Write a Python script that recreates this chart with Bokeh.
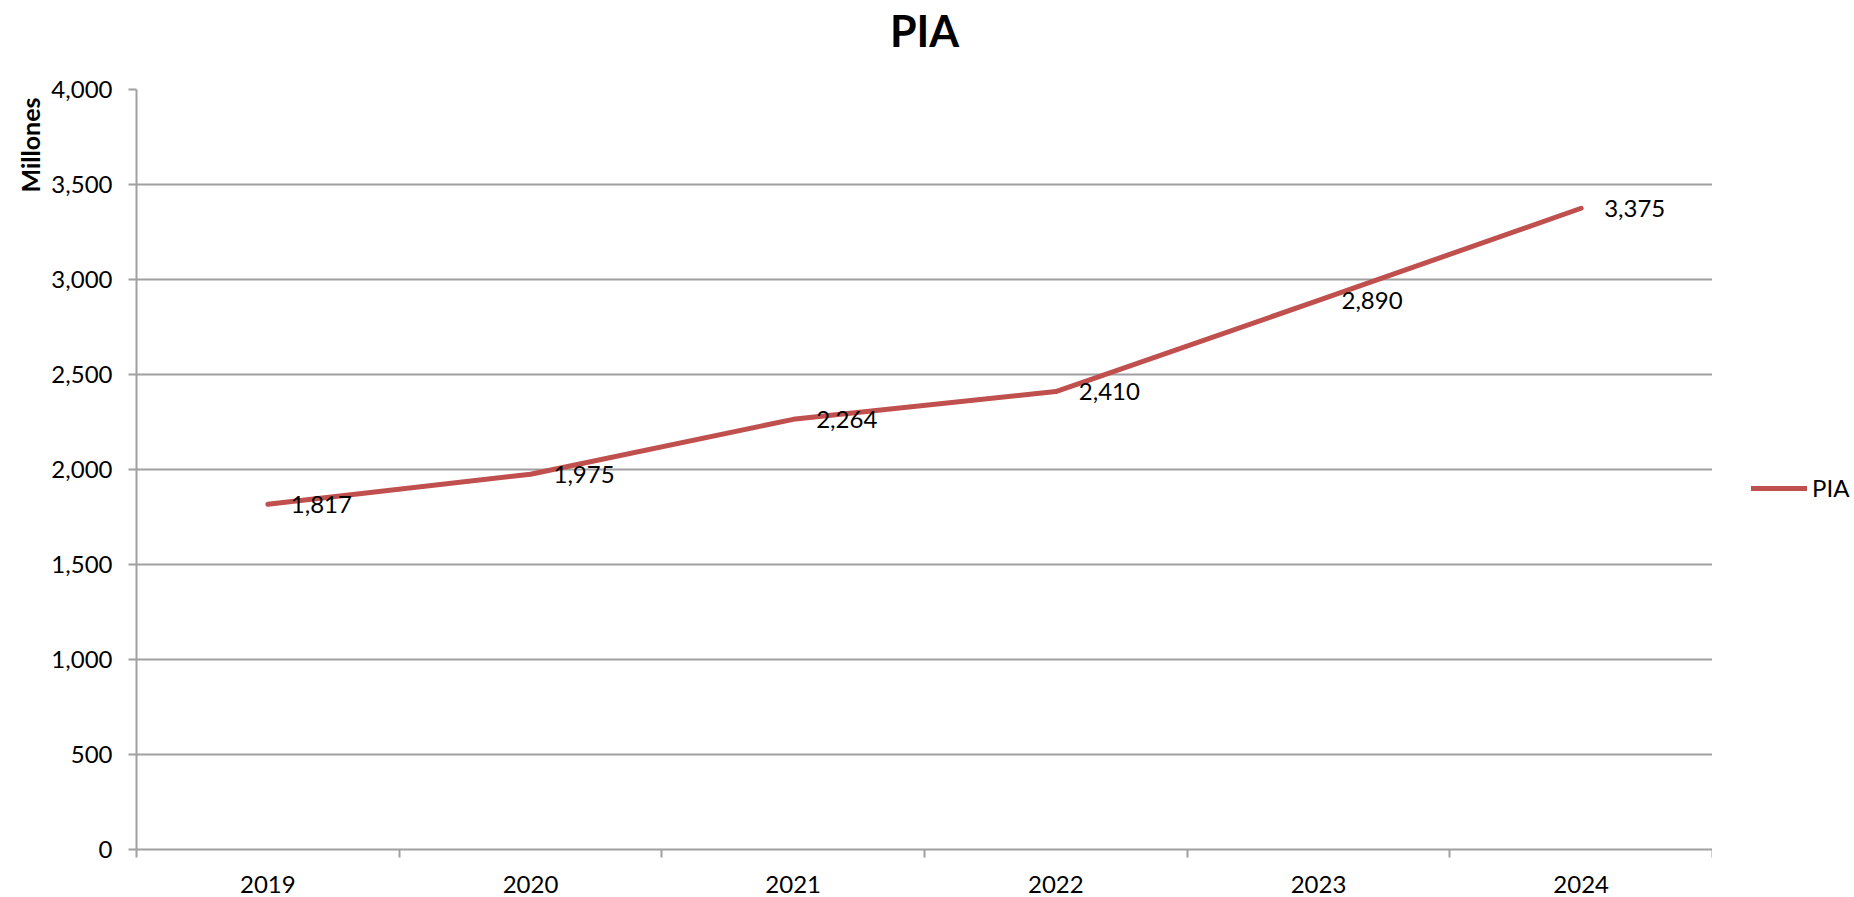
from bokeh.plotting import figure
from bokeh.layouts import row
from bokeh.models import (ColumnDataSource, FixedTicker, NumeralTickFormatter, Legend,
                          LegendItem, Title, Range1d)
from bokeh.core.properties import value
from bokeh.embed import file_html
from bokeh.resources import INLINE

years = ["2019", "2020", "2021", "2022", "2023", "2024"]
pia = [1817, 1975, 2264, 2410, 2890, 3375]
labels = ["1,817", "1,975", "2,264", "2,410", "2,890", "3,375"]
y_ticks = [0, 500, 1000, 1500, 2000, 2500, 3000, 3500, 4000]
series_name = "PIA"

FONT = "Lato"
GRID = "#a0a0a0"
RED = "#C0504D"

xs = [i + 0.5 for i in range(len(years))]
src = ColumnDataSource(dict(x=xs, y=pia, lab=labels))

p = figure(width=1712, height=897, output_backend="svg", toolbar_location=None,
           x_range=Range1d(0, len(years)), y_range=Range1d(0, 4000),
           min_border_left=136, min_border_top=89, min_border_right=0, min_border_bottom=48)
p.outline_line_color = None

p.title.text = "PIA"
p.title.align = "center"
p.title.text_font = FONT
p.title.text_font_size = "43px"
p.title.text_font_style = "bold"
p.title.text_color = "black"
p.title.standoff = 0

# spacer between title and frame
spacer = Title(text=" ", text_font=FONT, text_font_size="10px", standoff=20)
p.add_layout(spacer, "above")

line = p.line("x", "y", source=src, line_color=RED, line_width=5, line_cap="round", line_join="round")
p.text("x", "y", text="lab", source=src, x_offset=23, text_align="left", text_baseline="middle",
       text_font=value(FONT), text_font_size="24px", text_color="black")

# x axis
xa = p.xaxis[0]
xa.ticker = FixedTicker(ticks=xs, minor_ticks=list(range(len(years) + 1)))
xa.major_label_overrides = {x: y for x, y in zip(xs, years)}
xa.major_tick_out = 0
xa.major_tick_in = 0
xa.minor_tick_out = 8
xa.minor_tick_in = 0
xa.minor_tick_line_color = GRID
xa.minor_tick_line_width = 2
xa.axis_line_color = GRID
xa.axis_line_width = 2
xa.major_label_text_font = FONT
xa.major_label_text_font_size = "24px"
xa.major_label_text_color = "black"
xa.major_label_standoff = 18

# y axis
ya = p.yaxis[0]
ya.ticker = FixedTicker(ticks=y_ticks, minor_ticks=[])
ya.formatter = NumeralTickFormatter(format="0,0")
ya.major_tick_out = 8
ya.major_tick_in = 0
ya.major_tick_line_color = GRID
ya.major_tick_line_width = 2
ya.minor_tick_out = 0
ya.minor_tick_in = 0
ya.axis_line_color = GRID
ya.axis_line_width = 2
ya.major_label_text_font = FONT
ya.major_label_text_font_size = "24px"
ya.major_label_text_color = "black"
ya.major_label_standoff = 16

ytitle = Title(text="Millones", align="right", text_font=FONT, text_font_size="25px",
               text_font_style="bold", text_color="black", offset=8, standoff=8)
p.add_layout(ytitle, "left")

p.xgrid.grid_line_color = None
p.ygrid.grid_line_color = GRID
p.ygrid.grid_line_width = 2
p.ygrid.ticker = FixedTicker(ticks=y_ticks)

# legend figure on the right (its line uses the same data, kept out of view)
lf = figure(width=142, height=897, output_backend="svg", toolbar_location=None,
            x_range=Range1d(0, 1), y_range=Range1d(0, 1),
            min_border_left=0, min_border_right=0, min_border_top=0, min_border_bottom=0)
lf.axis.visible = False
lf.grid.visible = False
lf.outline_line_color = None
lline = lf.line("x", "y", source=src, line_color=RED, line_width=5, line_cap="round")

legend = Legend(items=[LegendItem(label=series_name, renderers=[lline])],
                location=(39, 347), glyph_width=56, glyph_height=20, label_standoff=5,
                padding=0, spacing=0, margin=0, border_line_color=None,
                background_fill_alpha=0, label_text_font=FONT, label_text_font_size="24px",
                label_text_color="black")
lf.add_layout(legend)

layout = row(p, lf, spacing=0)
open("out.html", "w").write(file_html(layout, INLINE))
